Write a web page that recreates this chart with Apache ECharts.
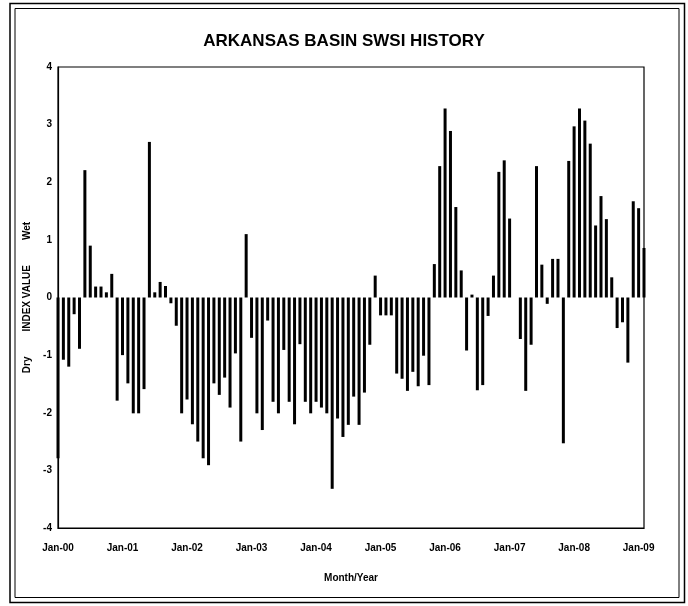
<!DOCTYPE html>
<html>
<head>
<meta charset="utf-8">
<script src="https://cdn.jsdelivr.net/npm/echarts@6/dist/echarts.min.js"></script>
<style>
html,body{margin:0;padding:0;background:#fff;}
#chart{width:688px;height:606px;}
</style>
</head>
<body>
<div id="chart"></div>
<script>
// Month labels
const monthNames = ['Jan','Feb','Mar','Apr','May','Jun','Jul','Aug','Sep','Oct','Nov','Dec'];
const yearCodes = ['00','01','02','03','04','05','06','07','08','09'];

// SWSI index values per year (monthly, Jan..Dec)
const swsi2000 = [-2.79, -1.08, -1.20, -0.29, -0.89, 2.21, 0.90, 0.19, 0.19, 0.09, 0.41, -1.79];
const swsi2001 = [-1.00, -1.49, -2.01, -2.01, -1.59, 2.70, 0.09, 0.27, 0.20, -0.10, -0.49, -2.01];
const swsi2002 = [-1.77, -2.20, -2.50, -2.79, -2.91, -1.49, -1.69, -1.39, -1.91, -0.97, -2.50, 1.10];
const swsi2003 = [-0.70, -2.01, -2.30, -0.40, -1.81, -2.01, -0.91, -1.81, -2.20, -0.81, -1.81, -2.01];
const swsi2004 = [-1.81, -1.91, -2.01, -3.32, -2.10, -2.42, -2.21, -1.72, -2.21, -1.65, -0.82, 0.38];
const swsi2005 = [-0.31, -0.31, -0.31, -1.32, -1.41, -1.62, -1.29, -1.54, -1.01, -1.52, 0.58, 2.28];
const swsi2006 = [3.28, 2.89, 1.57, 0.47, -0.92, 0.05, -1.61, -1.52, -0.32, 0.38, 2.18, 2.38];
const swsi2007 = [1.37, 0, -0.72, -1.62, -0.82, 2.28, 0.57, -0.11, 0.67, 0.67, -2.53, 2.37];
const swsi2008 = [2.97, 3.28, 3.07, 2.67, 1.25, 1.76, 1.36, 0.35, -0.53, -0.43, -1.13, 1.67];
const swsi2009 = [1.55, 0.86];

const yTicks = [-4, -3, -2, -1, 0, 1, 2, 3, 4];

const values = [].concat(swsi2000, swsi2001, swsi2002, swsi2003, swsi2004,
                         swsi2005, swsi2006, swsi2007, swsi2008, swsi2009);
const categories = [];
for (let y = 0; y < yearCodes.length; y++) {
  for (let m = 0; m < 12; m++) {
    if (categories.length < values.length) categories.push(monthNames[m] + '-' + yearCodes[y]);
  }
}

const FONT = 'Liberation Sans, Arial, sans-serif';
const chart = echarts.init(document.getElementById('chart'), null, {renderer: 'canvas'});
chart.setOption({
  backgroundColor: '#ffffff',
  animation: false,
  title: {
    text: 'ARKANSAS BASIN SWSI HISTORY',
    left: 'center',
    top: 28,
    textStyle: {fontFamily: FONT, fontSize: 17, fontWeight: 'bold', color: '#000'}
  },
  graphic: [
    {type: 'rect', shape: {x: 10, y: 3.5, width: 674.5, height: 599}, style: {fill: 'none', stroke: '#000', lineWidth: 1.5}, silent: true},
    {type: 'rect', shape: {x: 15, y: 8.5, width: 664, height: 589}, style: {fill: 'none', stroke: '#000', lineWidth: 1}, silent: true}
  ],
  grid: {
    left: 58, right: 44, top: 67, bottom: 78,
    show: true, borderColor: '#000', borderWidth: 1.2, backgroundColor: 'transparent'
  },
  xAxis: {
    type: 'category',
    data: categories,
    boundaryGap: false,
    axisLine: {onZero: false, lineStyle: {color: '#000', width: 1.2}},
    axisTick: {show: false},
    axisLabel: {interval: 11, color: '#000', fontFamily: FONT, fontSize: 10, fontWeight: 'bold', margin: 15},
    splitLine: {show: false},
    name: 'Month/Year',
    nameLocation: 'middle',
    nameGap: 45,
    nameTextStyle: {color: '#000', fontFamily: FONT, fontSize: 10, fontWeight: 'bold'}
  },
  yAxis: {
    type: 'value',
    min: yTicks[0],
    max: yTicks[yTicks.length - 1],
    interval: 1,
    axisLine: {show: true, lineStyle: {color: '#000', width: 1.2}},
    axisTick: {show: false},
    axisLabel: {color: '#000', fontFamily: FONT, fontSize: 10, fontWeight: 'bold', margin: 6},
    splitLine: {show: false},
    name: 'Dry         INDEX VALUE         Wet',
    nameLocation: 'middle',
    nameGap: 16,
    nameTextStyle: {color: '#000', fontFamily: FONT, fontSize: 10, fontWeight: 'bold'}
  },
  series: [{
    type: 'bar',
    data: values,
    barWidth: 3,
    itemStyle: {color: '#000'},
    clip: true
  }]
});
</script>
</body>
</html>
